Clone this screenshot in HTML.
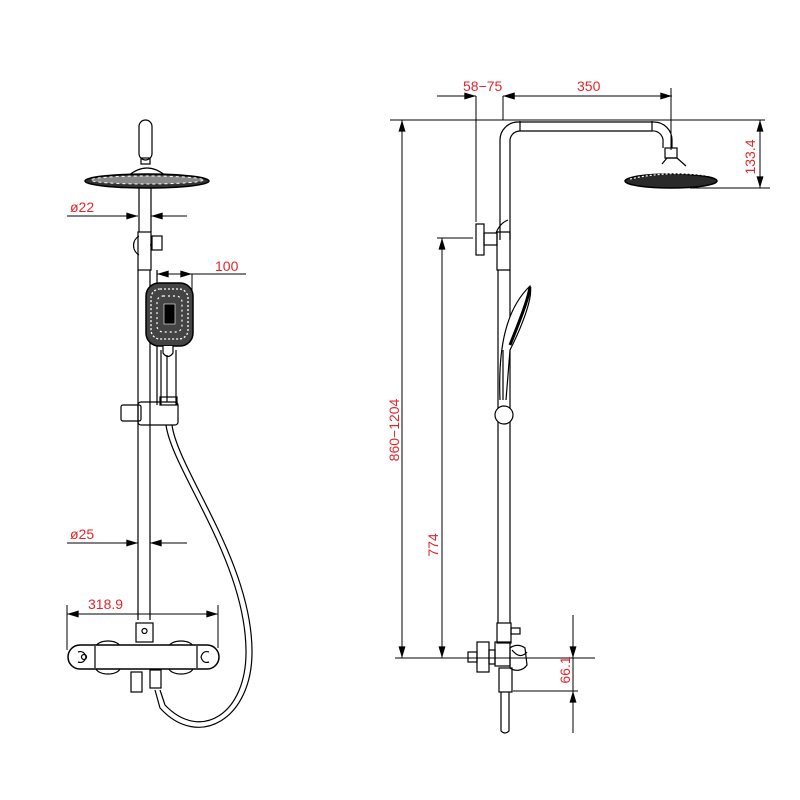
<!DOCTYPE html>
<html><head><meta charset="utf-8"><style>html,body{margin:0;padding:0;background:#fff}svg{display:block}</style></head><body>
<svg width="800" height="800" viewBox="0 0 800 800" xmlns="http://www.w3.org/2000/svg">
<defs>
<marker id="a" viewBox="0 0 10 6" refX="10" refY="3" markerWidth="16" markerHeight="7" orient="auto" markerUnits="userSpaceOnUse"><path d="M0,0L10,3L0,6Z" fill="#000"/></marker>
</defs>
<g fill="none" stroke="#000" stroke-width="1.2">
<!-- LEFT FIGURE -->
<rect x="139" y="120" width="13" height="40" rx="6.5"/>
<rect x="141" y="158" width="9" height="6"/>
<path d="M128 176 Q147 160 166 176"/>
<ellipse cx="147" cy="181" rx="62" ry="7" fill="#333" stroke-width="1.5"/>
<ellipse cx="147" cy="180" rx="56" ry="4" fill="#888" stroke="#fff" stroke-width="1" stroke-dasharray="3 3"/>
<line x1="139" y1="188" x2="139" y2="232"/><line x1="151" y1="188" x2="151" y2="232"/>
<path d="M139 236 A11 11 0 0 0 139 255"/>
<rect x="138" y="232" width="13" height="38"/>
<rect x="152" y="236" width="10" height="14"/><line x1="150" y1="245" x2="152" y2="245"/>
<line x1="138" y1="270" x2="138" y2="620"/><line x1="150" y1="270" x2="150" y2="620"/>
<line x1="157" y1="270" x2="157" y2="405"/>
<rect x="146" y="283" width="47" height="63" rx="13" fill="#444" stroke-width="1.5"/>
<rect x="151" y="289" width="37" height="50" rx="9" fill="none" stroke="#fff" stroke-width="1.3" stroke-dasharray="2 2"/>
<rect x="157" y="296" width="25" height="36" rx="6" fill="none" stroke="#fff" stroke-width="1.2" stroke-dasharray="2 3"/>
<rect x="164" y="304" width="11" height="20" fill="#000" stroke="#fff" stroke-width="0.6"/>
<path d="M163 346 L163 353 Q168 360 173 353 L173 346" fill="#fff"/>
<line x1="161" y1="350" x2="161" y2="405"/><line x1="176" y1="350" x2="176" y2="405"/>
<line x1="167" y1="355" x2="167" y2="402"/>
<rect x="121" y="405" width="20" height="16" rx="2"/>
<rect x="138" y="402" width="40" height="23" rx="3"/>
<rect x="160" y="397" width="17" height="8"/>
<path d="M166 425 C 172 470, 245 560, 246 650 C 247 715, 200 742, 165 705 L160 690"/>
<path d="M172 425 C 178 470, 251 560, 252 650 C 253 720, 198 750, 160 708 L155 690"/>
<rect x="136" y="623" width="17" height="19"/>
<circle cx="144.5" cy="631" r="2.5"/>
<ellipse cx="108" cy="647" rx="12" ry="6"/><ellipse cx="181" cy="647" rx="12" ry="6"/>
<ellipse cx="108" cy="668" rx="12" ry="6"/><ellipse cx="181" cy="668" rx="12" ry="6"/>
<rect x="68" y="645" width="151" height="24" rx="12" fill="#fff" stroke-width="1.5"/>
<line x1="95" y1="646" x2="95" y2="668"/><line x1="197" y1="646" x2="197" y2="668"/>
<path d="M78 652 Q84 650 86 657 Q84 664 78 662" /><circle cx="84" cy="657" r="2.5"/>
<path d="M209 652 Q203 650 201 657 Q203 664 209 662"/>
<rect x="131" y="672" width="11" height="20"/>
<rect x="150" y="670" width="11" height="18"/>
<!-- RIGHT FIGURE -->
<path d="M500 240 L500 140 A18 18 0 0 1 518 122 L654 122 A18 18 0 0 1 672 140 L672 148"/>
<path d="M510 240 L510 142 A10 10 0 0 1 520 131 L652 131 A10 10 0 0 1 663 142 L663 148"/>
<line x1="520" y1="121" x2="520" y2="131"/><line x1="652" y1="121" x2="652" y2="131"/>
<rect x="665" y="148" width="12" height="10"/>
<path d="M662 164 L667 158 L677 158 L686 166"/>
<ellipse cx="671" cy="181" rx="46" ry="7" fill="#2a2a2a" stroke-width="1.5"/>
<path d="M630 179 Q670 170 712 176" stroke="#fff" stroke-dasharray="2 2"/>
<rect x="476" y="224" width="8" height="31"/>
<rect x="484" y="233" width="13" height="12"/>
<path d="M497 240 L497 232 L510 232 L510 270 L497 270 Z"/>
<path d="M496 233 Q500 223 508 220"/>
<line x1="498" y1="270" x2="498" y2="623"/><line x1="510" y1="270" x2="510" y2="623"/>
<path d="M500 400 C 498 350, 505 310, 530 286 C 533 295, 525 320, 510 350 L506 400" fill="#fff"/>
<path d="M510 345 C 520 320, 528 300, 530 287" stroke-width="3"/>
<line x1="503" y1="350" x2="503" y2="400"/>
<circle cx="504" cy="415" r="9" fill="#fff"/>
<rect x="497" y="623" width="14" height="20"/>
<rect x="511" y="628" width="9" height="6"/>
<rect x="495" y="642" width="15" height="24"/>
<rect x="477" y="642" width="12" height="30"/>
<rect x="468" y="652" width="9" height="10"/>
<rect x="489" y="650" width="6" height="14"/>
<path d="M510 648 A12 12 0 0 1 525 648 L527 665 A12 12 0 0 1 510 668 Z"/>
<path d="M512 650 Q520 660 527 652"/>
<rect x="499" y="668" width="13" height="24"/>
<path d="M501 692 L501 731 Q505 735 509 731 L509 692"/>
</g>
<!-- dimension lines -->
<g stroke="#000" stroke-width="1" fill="none">
<line x1="67" y1="216" x2="138" y2="216" marker-end="url(#a)"/>
<line x1="187" y1="216" x2="151" y2="216" marker-end="url(#a)"/>
<line x1="192" y1="274" x2="246" y2="274"/>
<line x1="170" y1="274" x2="157" y2="274" marker-end="url(#a)"/>
<line x1="170" y1="274" x2="192" y2="274" marker-end="url(#a)"/>
<line x1="192" y1="274" x2="192" y2="292"/>
<line x1="67" y1="543" x2="138" y2="543" marker-end="url(#a)"/>
<line x1="187" y1="543" x2="150" y2="543" marker-end="url(#a)"/>
<line x1="140" y1="614" x2="67" y2="614" marker-end="url(#a)"/>
<line x1="140" y1="614" x2="218" y2="614" marker-end="url(#a)"/>
<line x1="67" y1="605" x2="67" y2="650"/><line x1="218" y1="605" x2="218" y2="648"/>
<line x1="390" y1="120" x2="765" y2="120"/>
<line x1="437" y1="96" x2="476" y2="96" marker-end="url(#a)"/>
<line x1="520" y1="96" x2="503" y2="96" marker-end="url(#a)"/>
<line x1="520" y1="96" x2="672" y2="96"/>
<line x1="650" y1="96" x2="672" y2="96" marker-end="url(#a)"/>
<line x1="590" y1="96" x2="503" y2="96" marker-end="url(#a)"/>
<line x1="476" y1="96" x2="476" y2="222"/><line x1="503" y1="96" x2="503" y2="120"/>
<line x1="671" y1="88" x2="671" y2="150"/>
<line x1="690" y1="188" x2="770" y2="188"/>
<line x1="760" y1="155" x2="760" y2="120" marker-end="url(#a)"/>
<line x1="760" y1="155" x2="760" y2="188" marker-end="url(#a)"/>
<line x1="437" y1="238" x2="473" y2="238"/>
<line x1="442" y1="450" x2="442" y2="238" marker-end="url(#a)"/>
<line x1="442" y1="450" x2="442" y2="658" marker-end="url(#a)"/>
<line x1="402" y1="400" x2="402" y2="120" marker-end="url(#a)"/>
<line x1="402" y1="400" x2="402" y2="658" marker-end="url(#a)"/>
<line x1="395" y1="658" x2="595" y2="658"/>
<line x1="573" y1="615" x2="573" y2="658" marker-end="url(#a)"/>
<line x1="573" y1="733" x2="573" y2="691" marker-end="url(#a)"/>
<line x1="513" y1="691" x2="578" y2="691"/>
<line x1="573" y1="658" x2="573" y2="691"/>
</g>
<g fill="#e0262b" font-family="Liberation Sans, sans-serif" font-size="14">
<text x="70" y="212">ø22</text>
<text x="215" y="271">100</text>
<text x="70" y="539">ø25</text>
<text x="88" y="609">318.9</text>
<text x="463" y="91">58−75</text>
<text x="577" y="91">350</text>
<text transform="translate(755,157) rotate(-90)" text-anchor="middle">133.4</text>
<text transform="translate(438,545) rotate(-90)" text-anchor="middle">774</text>
<text transform="translate(399,430) rotate(-90)" text-anchor="middle">860−1204</text>
<text transform="translate(570,670) rotate(-90)" text-anchor="middle">66.1</text>
</g>
</svg>
</body></html>
